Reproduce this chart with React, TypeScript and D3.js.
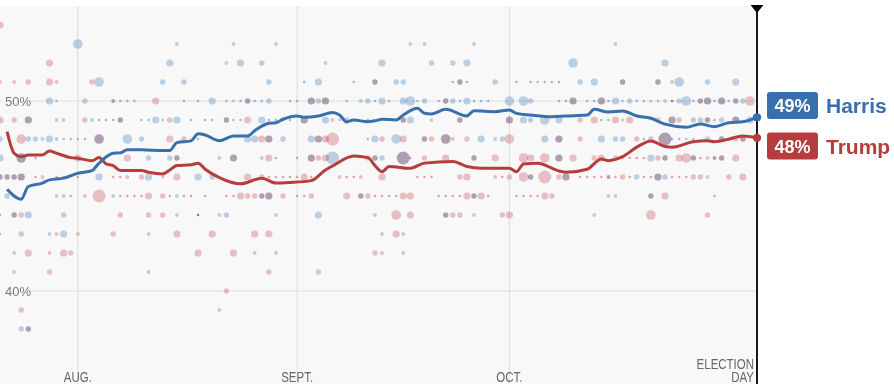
import React from 'react';
import * as d3 from 'd3';

// polling averages (date MM-DD, percent)
const harrisTrend: [string, number][] = [
  ['07-22', 45.36], ['07-24', 44.83], ['07-25', 45.5], ['07-27', 45.68], ['07-28', 45.85], ['07-30', 45.94],
  ['08-01', 46.2], ['08-03', 46.34], ['08-04', 46.73], ['08-06', 47.25], ['08-07', 47.27], ['08-08', 47.43],
  ['08-10', 47.43], ['08-13', 47.39], ['08-14', 47.39], ['08-15', 47.81], ['08-17', 47.9], ['08-18', 48.27],
  ['08-19', 48.21], ['08-21', 47.91], ['08-23', 48.16], ['08-25', 48.16], ['08-26', 48.44], ['08-28', 48.83],
  ['08-29', 48.86], ['08-30', 49.04], ['09-01', 49.21], ['09-02', 49.14], ['09-04', 49.21], ['09-06', 49.4],
  ['09-07', 49.26], ['09-08', 48.9], ['09-09', 49.0], ['09-11', 48.91], ['09-12', 48.96], ['09-13', 49.04],
  ['09-15', 49.0], ['09-16', 49.26], ['09-18', 49.62], ['09-19', 49.35], ['09-20', 49.32], ['09-22', 49.56],
  ['09-25', 49.21], ['09-26', 49.49], ['09-29', 49.44], ['10-01', 49.53], ['10-02', 49.35], ['10-04', 49.26],
  ['10-07', 49.17], ['10-09', 49.21], ['10-12', 49.26], ['10-13', 49.56], ['10-15', 49.42], ['10-17', 49.47],
  ['10-19', 49.21], ['10-21', 49.09], ['10-23', 48.78], ['10-26', 48.62], ['10-28', 48.79], ['10-30', 48.65],
  ['11-01', 48.86], ['11-03', 48.91], ['11-05', 49.14],
];

const trumpTrend: [string, number][] = [
  ['07-22', 48.39], ['07-23', 47.25], ['07-24', 47.07], ['07-25', 47.16], ['07-27', 47.16], ['07-28', 47.37],
  ['07-29', 47.25], ['07-31', 47.02], ['08-01', 46.99], ['08-03', 46.86], ['08-04', 47.02], ['08-05', 46.69],
  ['08-06', 46.6], ['08-07', 46.34], ['08-10', 46.34], ['08-11', 46.25], ['08-13', 46.16], ['08-14', 46.37],
  ['08-15', 46.6], ['08-17', 46.64], ['08-18', 46.73], ['08-19', 46.41], ['08-21', 45.97], ['08-24', 45.64],
  ['08-27', 45.94], ['08-29', 45.68], ['08-31', 45.71], ['09-03', 45.81], ['09-05', 46.37], ['09-06', 46.58],
  ['09-09', 47.11], ['09-11', 47.02], ['09-12', 46.6], ['09-13', 46.28], ['09-14', 46.55], ['09-17', 46.46],
  ['09-19', 46.73], ['09-23', 46.81], ['09-25', 46.55], ['09-27', 46.46], ['10-01', 46.46], ['10-02', 46.28],
  ['10-03', 46.69], ['10-05', 46.73], ['10-08', 46.32], ['10-09', 46.25], ['10-12', 46.41], ['10-14', 46.95],
  ['10-15', 46.86], ['10-17', 47.07], ['10-19', 47.57], ['10-21', 47.9], ['10-23', 47.6], ['10-24', 47.57],
  ['10-27', 47.86], ['10-29', 47.91], ['10-30', 47.86], ['11-01', 47.99], ['11-03', 48.16], ['11-05', 48.06],
];

// individual polls, grouped by rounded percent: [pct, [date, weight 1..6]]
const harrisPolls: [number, [string, number][]][] = [
  [53, [['08-01', 5], ['08-15', 2], ['08-23', 2], ['08-29', 2], ['09-17', 2], ['09-19', 2], ['09-26', 2], ['10-16', 2]]],
  [52, [['08-14', 4], ['08-22', 2], ['08-24', 4], ['08-27', 3], ['09-05', 2], ['09-13', 4], ['09-20', 3], ['09-23', 3],
    ['09-25', 4], ['10-10', 5], ['10-23', 4]]],
  [51, [['08-04', 5], ['08-13', 3], ['08-16', 3], ['08-28', 3], ['09-02', 1], ['09-04', 4], ['09-09', 1], ['09-12', 3],
    ['09-15', 3], ['09-16', 3], ['09-23', 1], ['09-24', 3], ['09-25', 1], ['09-29', 3], ['10-02', 1], ['10-04', 1],
    ['10-05', 1], ['10-06', 1], ['10-07', 1], ['10-11', 3], ['10-13', 4], ['10-17', 3], ['10-22', 3], ['10-24', 2],
    ['10-25', 5], ['10-29', 3], ['11-02', 4]]],
  [50, [['07-28', 4], ['07-29', 1], ['08-02', 3], ['08-06', 2], ['08-07', 1], ['08-08', 1], ['08-09', 1], ['08-16', 1],
    ['08-18', 1], ['08-20', 4], ['08-22', 1], ['08-23', 1], ['08-24', 1], ['08-25', 3], ['08-26', 1], ['08-27', 1],
    ['08-28', 3], ['08-31', 1], ['09-01', 1], ['09-03', 4], ['09-04', 3], ['09-05', 4], ['09-08', 1], ['09-10', 2],
    ['09-11', 3], ['09-12', 1], ['09-13', 4], ['09-14', 1], ['09-16', 4], ['09-17', 5], ['09-18', 1], ['09-19', 3],
    ['09-21', 1], ['09-22', 3], ['09-23', 3], ['09-24', 1], ['09-25', 4], ['09-26', 1], ['09-27', 1], ['09-28', 1],
    ['10-01', 5], ['10-03', 5], ['10-04', 3], ['10-08', 1], ['10-09', 1], ['10-10', 4], ['10-12', 1], ['10-13', 1],
    ['10-14', 4], ['10-15', 1], ['10-16', 4], ['10-17', 1], ['10-18', 3], ['10-19', 1], ['10-20', 1], ['10-21', 1],
    ['10-22', 1], ['10-23', 2], ['10-24', 1], ['10-25', 3], ['10-26', 5], ['10-27', 1], ['10-28', 3], ['10-29', 4],
    ['10-30', 1], ['10-31', 4], ['11-01', 1], ['11-02', 3], ['11-03', 3]]],
  [49, [['07-25', 4], ['07-29', 2], ['07-30', 2], ['08-03', 2], ['08-04', 1], ['08-05', 1], ['08-06', 1], ['08-07', 3],
    ['08-10', 1], ['08-11', 1], ['08-12', 4], ['08-13', 1], ['08-15', 4], ['08-17', 1], ['08-19', 1], ['08-20', 1],
    ['08-22', 3], ['08-23', 1], ['08-24', 1], ['08-27', 4], ['08-28', 1], ['08-29', 1], ['08-30', 1], ['08-31', 1],
    ['09-02', 4], ['09-05', 4], ['09-07', 1], ['09-08', 3], ['09-09', 1], ['09-11', 1], ['09-16', 3], ['09-17', 4],
    ['09-20', 2], ['09-24', 3], ['10-01', 4], ['10-03', 4], ['10-04', 3], ['10-06', 5], ['10-08', 4], ['10-14', 1],
    ['10-15', 1], ['10-17', 1], ['10-24', 4], ['10-27', 3], ['10-28', 3], ['10-29', 3], ['10-30', 1], ['10-31', 3],
    ['11-02', 4], ['11-04', 4]]],
  [48, [['07-21', 3], ['07-25', 3], ['07-26', 3], ['07-27', 2], ['07-28', 4], ['07-29', 2], ['07-30', 1], ['07-31', 1],
    ['08-01', 1], ['08-02', 1], ['08-04', 5], ['08-08', 5], ['08-10', 3], ['08-18', 1], ['08-25', 4], ['08-26', 4],
    ['08-28', 4], ['08-30', 3], ['09-03', 4], ['09-04', 4], ['09-11', 1], ['09-12', 4], ['09-15', 5], ['09-19', 3],
    ['09-22', 5], ['09-27', 4], ['09-29', 2], ['09-30', 3], ['10-06', 4], ['10-08', 4], ['10-14', 4], ['10-16', 3],
    ['10-17', 3], ['10-20', 1], ['10-21', 3], ['10-23', 6], ['10-24', 1], ['10-25', 1], ['10-26', 1], ['10-27', 1],
    ['10-29', 3], ['10-31', 3], ['11-03', 3]]],
  [47, [['07-21', 4], ['07-24', 5], ['08-11', 3], ['08-14', 3], ['08-15', 3], ['08-21', 2], ['08-23', 4], ['08-27', 2],
    ['09-03', 4], ['09-06', 6], ['09-12', 3], ['09-13', 3], ['09-16', 6], ['09-26', 3], ['10-08', 4], ['10-21', 4],
    ['10-23', 3], ['10-27', 3], ['10-30', 2], ['10-31', 3]]],
  [46, [['07-21', 3], ['07-22', 3], ['07-23', 3], ['07-24', 4], ['08-04', 4], ['08-11', 4], ['08-18', 4], ['08-20', 3],
    ['10-04', 3], ['10-09', 4], ['10-15', 2], ['10-19', 3], ['10-22', 4], ['10-23', 3], ['10-29', 2]]],
  [45, [['07-22', 3], ['07-29', 2], ['08-06', 2], ['08-15', 2], ['08-27', 3], ['08-28', 4], ['09-10', 3], ['09-26', 3],
    ['10-16', 2], ['10-21', 3], ['10-30', 1]]],
  [44, [['07-21', 1], ['07-23', 3], ['07-25', 4], ['08-18', 1], ['08-22', 3], ['08-29', 2], ['09-04', 4], ['09-12', 2],
    ['09-22', 3]]],
  [43, [['07-21', 1], ['07-24', 3], ['07-28', 2], ['07-30', 4], ['09-16', 2]]],
  [41, [['07-23', 2], ['08-11', 2]]],
  [38, [['07-24', 3], ['07-25', 3]]],
];

const trumpPolls: [number, [string, number][]][] = [
  [54, [['07-21', 4]]],
  [52, [['07-28', 4]]],
  [51, [['07-21', 2], ['07-23', 2], ['07-25', 3], ['07-28', 4], ['07-29', 2], ['08-03', 3], ['09-12', 3], ['09-24', 3],
    ['10-08', 1], ['10-17', 3], ['10-22', 3]]],
  [50, [['08-06', 2], ['08-12', 4], ['08-25', 3], ['09-03', 4], ['09-05', 4], ['09-22', 3], ['10-10', 4], ['10-14', 4],
    ['10-24', 1], ['10-28', 3], ['10-29', 4], ['10-31', 4], ['11-02', 3], ['11-04', 5]]],
  [49, [['07-21', 4], ['07-23', 3], ['07-25', 4], ['08-02', 3], ['08-07', 3], ['08-14', 3], ['08-22', 3], ['08-25', 4],
    ['09-02', 4], ['09-06', 2], ['09-16', 3], ['09-24', 3], ['10-01', 4], ['10-11', 3], ['10-13', 4], ['10-16', 4],
    ['10-18', 4], ['10-22', 3], ['10-24', 4], ['10-25', 3], ['10-29', 3], ['11-02', 4]]],
  [48, [['07-24', 5], ['08-04', 5], ['08-14', 4], ['08-16', 3], ['08-27', 4], ['08-28', 4], ['09-04', 4], ['09-05', 4],
    ['09-06', 6], ['09-13', 3], ['09-16', 4], ['09-19', 3], ['09-20', 3], ['09-22', 5], ['09-23', 2], ['09-25', 3],
    ['10-01', 5], ['10-08', 4], ['10-11', 3], ['10-19', 3], ['10-23', 6], ['10-31', 3], ['11-02', 3], ['11-03', 3]]],
  [47, [['07-24', 5], ['07-26', 1], ['08-01', 4], ['08-08', 4], ['08-15', 3], ['08-23', 4], ['08-28', 4], ['08-29', 1],
    ['09-01', 1], ['09-03', 4], ['09-04', 3], ['09-05', 4], ['09-11', 3], ['09-12', 3], ['09-16', 6], ['09-17', 1],
    ['09-19', 3], ['09-22', 4], ['09-26', 3], ['09-29', 4], ['10-03', 5], ['10-04', 4], ['10-06', 5], ['10-08', 4],
    ['10-10', 4], ['10-13', 3], ['10-14', 4], ['10-16', 3], ['10-17', 1], ['10-18', 1], ['10-19', 1], ['10-20', 1],
    ['10-22', 3], ['10-23', 3], ['10-25', 4], ['10-26', 5], ['10-27', 3], ['10-28', 1], ['10-29', 2], ['10-30', 2],
    ['10-31', 3], ['11-02', 4]]],
  [46, [['07-21', 3], ['07-22', 3], ['07-23', 3], ['07-24', 4], ['07-26', 1], ['07-27', 2], ['07-29', 1], ['07-30', 1],
    ['08-01', 1], ['08-06', 1], ['08-07', 1], ['08-08', 2], ['08-10', 3], ['08-13', 1], ['08-15', 4], ['08-25', 4],
    ['08-27', 3], ['08-28', 1], ['08-29', 1], ['08-30', 1], ['08-31', 1], ['09-01', 1], ['09-02', 4], ['09-03', 1],
    ['09-07', 2], ['09-08', 1], ['09-09', 1], ['09-10', 2], ['09-13', 4], ['09-18', 1], ['09-19', 1], ['09-20', 1],
    ['09-24', 3], ['09-25', 4], ['09-29', 2], ['09-30', 1], ['10-01', 3], ['10-03', 5], ['10-04', 3], ['10-06', 6],
    ['10-08', 3], ['10-09', 4], ['10-11', 1], ['10-12', 1], ['10-13', 1], ['10-14', 1], ['10-15', 2], ['10-16', 1],
    ['10-17', 3], ['10-18', 1], ['10-20', 1], ['10-21', 1], ['10-22', 4], ['10-24', 1], ['10-25', 1], ['10-26', 1],
    ['10-27', 3], ['10-28', 3], ['11-01', 3], ['11-03', 4]]],
  [45, [['07-30', 2], ['07-31', 1], ['08-02', 2], ['08-04', 6], ['08-07', 1], ['08-08', 1], ['08-09', 1], ['08-10', 1],
    ['08-11', 4], ['08-13', 3], ['08-14', 1], ['08-16', 1], ['08-17', 1], ['08-19', 1], ['08-22', 1], ['08-23', 1],
    ['08-24', 4], ['08-25', 3], ['08-26', 3], ['08-27', 3], ['08-28', 4], ['08-30', 3], ['09-01', 1], ['09-02', 1],
    ['09-03', 3], ['09-08', 4], ['09-10', 3], ['09-11', 3], ['09-12', 1], ['09-13', 1], ['09-14', 1], ['09-15', 1],
    ['09-16', 4], ['09-17', 4], ['09-21', 1], ['09-22', 1], ['09-23', 1], ['09-24', 1], ['09-25', 4], ['09-26', 3],
    ['09-27', 4], ['09-28', 1], ['10-02', 1], ['10-03', 1], ['10-04', 1], ['10-05', 1], ['10-06', 4], ['10-07', 3],
    ['10-15', 2], ['10-21', 3], ['10-23', 4]]],
  [44, [['07-23', 3], ['07-24', 3], ['07-30', 3], ['08-07', 3], ['08-11', 3], ['08-13', 3], ['08-15', 2], ['08-18', 1],
    ['08-21', 2], ['09-15', 5], ['09-17', 4], ['09-22', 3], ['09-23', 3], ['09-24', 3], ['09-26', 2], ['09-30', 3],
    ['10-01', 4], ['10-13', 2], ['10-21', 5], ['10-29', 3]]],
  [43, [['07-29', 2], ['08-01', 2], ['08-06', 3], ['08-11', 2], ['08-15', 4], ['08-20', 4], ['08-26', 4], ['08-28', 4],
    ['09-13', 2], ['09-15', 4]]],
  [42, [['07-23', 2], ['07-25', 4], ['07-28', 2], ['07-30', 4], ['07-31', 3], ['08-18', 4], ['08-23', 4], ['08-26', 2],
    ['08-29', 2], ['09-12', 3], ['09-13', 2], ['09-16', 2]]],
  [41, [['07-28', 3], ['08-28', 3], ['09-04', 3]]],
  [40, [['08-22', 3]]],
  [39, [['07-24', 3], ['08-21', 2]]],
  [38, [['07-25', 3]]],
];

const startDate = '07-21';
const electionDate = '11-05';
const tickDates = ['08-01', '09-01', '10-01'];
const tickLabels = ['AUG.', 'SEPT.', 'OCT.'];
const gridValues = [40, 50];
const candidates = ['Harris', 'Trump'];
const finalPcts = [49, 48];

const W = 894;
const H = 392;
const plot = { left: 0, right: 757, top: 6, bottom: 384 };
const HARRIS = '#3a6fae';
const TRUMP = '#b53d3d';
const HARRIS_DOT = '#3779b5';
const TRUMP_DOT = '#c34751';
const sans = '"Liberation Sans", Arial, sans-serif';
const NARROW = 0.82; // condensed look for the date labels

const parse = d3.timeParse('%Y-%m-%d');
const toDate = (s: string) => parse('2024-' + s) as Date;

const flatten = (rows: [number, [string, number][]][]) =>
  rows.flatMap(([pct, list]) => list.map(([d, w]) => ({ date: toDate(d), pct, w })));

// narrow text: squeeze horizontally around the anchor point
const NarrowText: React.FC<{ x: number; y: number; anchor: string; children: React.ReactNode }> = ({
  x,
  y,
  anchor,
  children,
}) => (
  <g transform={`translate(${x},${y}) scale(${NARROW},1)`}>
    <text x={0} y={0} textAnchor={anchor} fontFamily={sans} fontSize={14} fill="#666">
      {children}
    </text>
  </g>
);

const App: React.FC = () => {
  const x = d3.scaleTime().domain([toDate(startDate), toDate(electionDate)]).range([plot.left, plot.right]);
  const y = d3.scaleLinear().domain([40, 50]).range([291, 101]);
  const r = d3.scaleLinear().domain([1, 2, 3, 4, 5, 6]).range([1.2, 1.9, 2.7, 3.6, 4.8, 6.5]);

  const line = d3
    .line<[string, number]>()
    .x((d) => x(toDate(d[0])))
    .y((d) => y(d[1]))
    .curve(d3.curveMonotoneX);

  const hDots = flatten(harrisPolls);
  const tDots = flatten(trumpPolls);
  const ex = x(toDate(electionDate));
  const hEnd = harrisTrend[harrisTrend.length - 1];
  const tEnd = trumpTrend[trumpTrend.length - 1];

  return (
    <svg width={W} height={H} style={{ position: 'absolute', left: 0, top: 0, background: '#fff' }}>
      <defs>
        <clipPath id="plotclip">
          <rect x={plot.left} y={plot.top} width={plot.right - plot.left} height={plot.bottom - plot.top} />
        </clipPath>
      </defs>
      <rect x={plot.left} y={plot.top} width={plot.right - plot.left} height={plot.bottom - plot.top} fill="#f8f8f8" />

      {tickDates.map((d) => (
        <line key={d} x1={x(toDate(d))} x2={x(toDate(d))} y1={plot.top} y2={plot.bottom} stroke="#dedede" strokeWidth={1} />
      ))}
      {gridValues.map((v) => (
        <line key={v} x1={plot.left} x2={plot.right} y1={y(v)} y2={y(v)} stroke="#dedede" strokeWidth={1} />
      ))}

      <g clipPath="url(#plotclip)">
        {tDots.map((d, i) => (
          <circle key={'t' + i} cx={x(d.date)} cy={y(d.pct)} r={r(d.w)} fill={TRUMP_DOT}
            fillOpacity={d.w === 1 ? 0.5 : 0.32} style={{ mixBlendMode: 'multiply' }} />
        ))}
        {hDots.map((d, i) => (
          <circle key={'h' + i} cx={x(d.date)} cy={y(d.pct)} r={r(d.w)} fill={HARRIS_DOT}
            fillOpacity={d.w === 1 ? 0.5 : 0.32} style={{ mixBlendMode: 'multiply' }} />
        ))}
      </g>

      {gridValues.map((v) => (
        <g key={'l' + v}>
          <rect x={2} y={y(v) - 7} width={27} height={14} fill="#f8f8f8" />
          <text x={5} y={y(v) + 5} fontFamily={sans} fontSize={13} fill="#777">{v}%</text>
        </g>
      ))}

      <path d={line(trumpTrend) || ''} fill="none" stroke={TRUMP} strokeWidth={3} strokeLinejoin="round" />
      <path d={line(harrisTrend) || ''} fill="none" stroke={HARRIS} strokeWidth={3} strokeLinejoin="round" />

      {tickDates.map((d, i) => (
        <NarrowText key={d} x={x(toDate(d))} y={382} anchor="middle">{tickLabels[i]}</NarrowText>
      ))}
      <NarrowText x={ex - 3} y={369} anchor="end">ELECTION</NarrowText>
      <NarrowText x={ex - 3} y={382} anchor="end">DAY</NarrowText>

      <line x1={ex} x2={ex} y1={plot.top} y2={plot.bottom} stroke="#000" strokeWidth={1.8} />
      <path d={`M${ex - 6.5},${plot.top - 1}L${ex + 6.5},${plot.top - 1}L${ex},${plot.top + 7}Z`} fill="#000" />

      <circle cx={x(toDate(tEnd[0]))} cy={y(tEnd[1])} r={4.2} fill={TRUMP} />
      <circle cx={x(toDate(hEnd[0]))} cy={y(hEnd[1])} r={4.2} fill={HARRIS} />

      {candidates.map((c, i) => {
        const top = i === 0 ? 92 : 132.5;
        const col = i === 0 ? HARRIS : TRUMP;
        return (
          <g key={c}>
            <rect x={767} y={top} width={51} height={27} rx={3} fill={col} />
            <text x={792.5} y={top + 20} textAnchor="middle" fontFamily={sans} fontWeight="bold" fontSize={18} fill="#fff">
              {finalPcts[i]}%
            </text>
            <text x={826} y={top + 21} fontFamily={sans} fontWeight="bold" fontSize={21} fill={col}>{c}</text>
          </g>
        );
      })}
    </svg>
  );
};

export default App;
